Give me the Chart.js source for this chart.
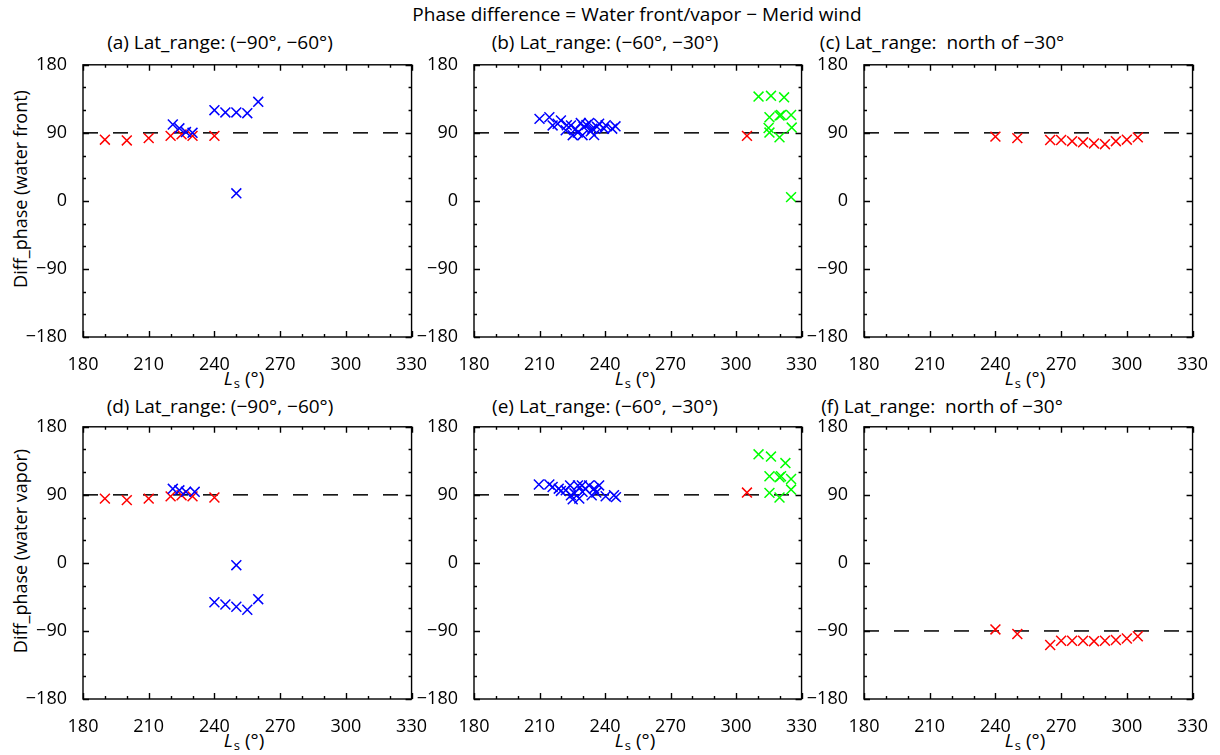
<!DOCTYPE html>
<html>
<head>
<meta charset="utf-8">
<script src="https://cdn.jsdelivr.net/npm/chart.js@4.4.0/dist/chart.umd.min.js"></script>
<style>
  body { margin: 0; background: #fff; font-family: "Open Sans", sans-serif; }
  #page { position: relative; width: 1220px; height: 755px; overflow: hidden; }
  .box { position: absolute; }
  .lbl { position: absolute; white-space: nowrap; color: #000; font-size: 19px; line-height: 22px; transform: translate(-50%, -50%); }
  .ytitle { font-size: 18px; transform: translate(-50%, -50%) rotate(-90deg); }
  .lbl sub { font-size: 13px; vertical-align: -3px; margin-left: 1px; }
</style>
</head>
<body>
<div id="page">
  <div class="lbl" style="left:637px; top:14px;">Phase difference = Water front/vapor &minus; Merid wind</div>

  <div class="lbl" style="left:220px; top:42px;">(a) Lat_range: (&minus;90&deg;, &minus;60&deg;)</div>
  <div class="lbl" style="left:605px; top:42px;">(b) Lat_range: (&minus;60&deg;, &minus;30&deg;)</div>
  <div class="lbl" style="left:942px; top:42px;">(c) Lat_range: &nbsp;north of &minus;30&deg;</div>
  <div class="lbl" style="left:220px; top:406px;">(d) Lat_range: (&minus;90&deg;, &minus;60&deg;)</div>
  <div class="lbl" style="left:605px; top:406px;">(e) Lat_range: (&minus;60&deg;, &minus;30&deg;)</div>
  <div class="lbl" style="left:942px; top:406px;">(f) Lat_range: &nbsp;north of &minus;30&deg;</div>

  <div class="lbl ytitle" style="left:20px; top:189px;">Diff_phase (water front)</div>
  <div class="lbl ytitle" style="left:20px; top:551px;">Diff_phase (water vapor)</div>

  <div class="lbl" style="left:244px; top:380px;"><i>L</i><sub>s</sub> (&deg;)</div>
  <div class="lbl" style="left:635px; top:380px;"><i>L</i><sub>s</sub> (&deg;)</div>
  <div class="lbl" style="left:1025px; top:380px;"><i>L</i><sub>s</sub> (&deg;)</div>
  <div class="lbl" style="left:244px; top:742px;"><i>L</i><sub>s</sub> (&deg;)</div>
  <div class="lbl" style="left:635px; top:742px;"><i>L</i><sub>s</sub> (&deg;)</div>
  <div class="lbl" style="left:1025px; top:742px;"><i>L</i><sub>s</sub> (&deg;)</div>

  <div class="box" id="boxA"><canvas id="chartA"></canvas></div>
  <div class="box" id="boxB"><canvas id="chartB"></canvas></div>
  <div class="box" id="boxC"><canvas id="chartC"></canvas></div>
  <div class="box" id="boxD"><canvas id="chartD"></canvas></div>
  <div class="box" id="boxE"><canvas id="chartE"></canvas></div>
  <div class="box" id="boxF"><canvas id="chartF"></canvas></div>
</div>

<script>
// axis ticks
const xTicks = [180, 210, 240, 270, 300, 330];
const yTicks = [-180, -90, 0, 90, 180];
const xMinor = [180, 190, 200, 210, 220, 230, 240, 250, 260, 270, 280, 290, 300, 310, 320, 330];
const yMinor = [-180, -150, -120, -90, -60, -30, 0, 30, 60, 90, 120, 150, 180];
const refX = [180, 330];

// (a) water front, -90..-60
const aRedX  = [190, 200, 210, 220, 225, 230, 240];
const aRedY  = [81, 80, 83, 86, 88, 86, 86];
const aBlueX = [221, 224, 227, 230, 240, 245, 250, 255, 260, 250];
const aBlueY = [101, 96, 91, 90, 120, 117, 117, 116, 131, 10];

// (b) water front, -60..-30
const bBlueX = [210, 214.5, 216, 218.3, 219.8, 222, 222.5, 224.4, 225.2, 226.5, 227.5, 228.9, 229.7, 230.2, 231.5, 232.7, 233.5, 234.2, 235, 236.3, 237.3, 239.5, 240.3, 243.3, 244.8];
const bBlueY = [108.5, 110.6, 99.8, 102, 106.3, 93.4, 100, 99.8, 86.9, 95, 90.5, 102.9, 86.9, 97.7, 100.5, 103, 92, 95.5, 87, 98, 102, 95.5, 100, 95.5, 98.6];
const bRedX  = [305];
const bRedY  = [86];
const bGreenX = [310.3, 316, 322, 315.3, 319.9, 320.6, 325.2, 314.9, 315.3, 319.9, 325.5, 325.2];
const bGreenY = [138, 139, 137, 110.6, 112.8, 113.5, 113.6, 96.4, 90.4, 84, 97, 5];

// (c) water front, north of -30
const cRedX = [240, 250, 265, 270, 275, 280, 285, 290, 295, 300, 305];
const cRedY = [85, 83, 80.5, 80.5, 79, 77.5, 76, 75, 79, 81, 84];

// (d) water vapor, -90..-60
const dRedX  = [190, 200, 210, 220, 225, 230, 240];
const dRedY  = [85, 83, 85, 88, 89.5, 88, 86.5];
const dBlueX = [221, 224, 227, 231, 240, 245, 250, 255, 260, 250];
const dBlueY = [98, 96, 94, 94, -52, -55, -58, -62, -48, -3];

// (e) water vapor, -60..-30
const eBlueX = [209.7, 214.5, 216, 218.8, 219.8, 222, 224, 224.4, 225.2, 226, 227.6, 228.2, 229.4, 229.7, 231, 232.7, 233.9, 235, 236, 237.3, 240.3, 244.1, 245];
const eBlueY = [103.7, 103.7, 100.4, 98.2, 95.2, 96, 102.5, 89.5, 84, 92, 102.5, 85.2, 102.5, 94, 98, 102.5, 89.5, 98.2, 93, 102.5, 88.2, 89.5, 87];
const eRedX  = [305];
const eRedY  = [93];
const eGreenX = [310.3, 316, 322.6, 315.3, 319.9, 320.6, 325.2, 315.3, 319.9, 325.2];
const eGreenY = [143.6, 140.6, 132, 114.6, 113.3, 114.6, 111, 92.6, 86.5, 97];

// (f) water vapor, north of -30
const fRedX = [240, 250, 265, 270, 275, 280, 285, 290, 295, 300, 305];
const fRedY = [-88, -94, -108.6, -103, -103, -103, -103.5, -103, -102, -100, -97];

const RED = '#ff0000', BLUE = '#0000ff', GREEN = '#00ff00';
const FONT = "'Open Sans', sans-serif";

function pts(xs, ys) {
  return xs.map((x, i) => ({ x: x, y: ys[i] }));
}

function crosses(xs, ys, color) {
  return {
    data: pts(xs, ys),
    pointStyle: 'crossRot',
    pointRadius: 7,
    pointHoverRadius: 7,
    pointBorderColor: color,
    pointBackgroundColor: color,
    pointBorderWidth: 1.5,
    showLine: false
  };
}

function refLine(v) {
  return {
    data: pts(refX, [v, v]),
    showLine: true,
    borderColor: '#000',
    borderWidth: 1.5,
    borderDash: [15, 15],
    pointRadius: 0,
    fill: false
  };
}

// frame + inward ticks on all four sides
const frameTicks = {
  id: 'frameTicks',
  afterDraw(chart) {
    const ctx = chart.ctx, a = chart.chartArea;
    const x = chart.scales.x, y = chart.scales.y;
    ctx.save();
    ctx.strokeStyle = '#000';
    ctx.lineWidth = 1.4;
    ctx.strokeRect(a.left, a.top, a.right - a.left, a.bottom - a.top);
    ctx.beginPath();
    xMinor.forEach(v => {
      const px = Math.round(x.getPixelForValue(v)) + 0.5;
      const len = xTicks.includes(v) ? 6 : 3;
      ctx.moveTo(px, a.bottom); ctx.lineTo(px, a.bottom - len);
      ctx.moveTo(px, a.top); ctx.lineTo(px, a.top + len);
    });
    yMinor.forEach(v => {
      const py = Math.round(y.getPixelForValue(v)) + 0.5;
      const len = yTicks.includes(v) ? 6 : 3;
      ctx.moveTo(a.left, py); ctx.lineTo(a.left + len, py);
      ctx.moveTo(a.right, py); ctx.lineTo(a.right - len, py);
    });
    ctx.stroke();
    ctx.restore();
  }
};

const PAD_L = 80, PAD_T = 14, PAD_R = 22, PAD_B = 50;

function makePanel(key, area, datasets) {
  const box = document.getElementById('box' + key);
  const cv = document.getElementById('chart' + key);
  const w = area.R - area.L + PAD_L + PAD_R;
  const h = area.B - area.T + PAD_T + PAD_B;
  box.style.left = (area.L - PAD_L) + 'px';
  box.style.top = (area.T - PAD_T) + 'px';
  cv.width = w; cv.height = h;
  cv.style.width = w + 'px'; cv.style.height = h + 'px';

  new Chart(cv.getContext('2d'), {
    type: 'scatter',
    data: { datasets: datasets },
    options: {
      responsive: false,
      animation: false,
      layout: { padding: { left: 0, top: PAD_T, right: PAD_R, bottom: 0 } },
      plugins: { legend: { display: false }, tooltip: { enabled: false } },
      scales: {
        x: {
          type: 'linear', min: 180, max: 330,
          grid: { display: false },
          border: { display: false },
          afterBuildTicks: s => { s.ticks = xTicks.map(v => ({ value: v })); },
          afterFit: s => { s.height = PAD_B; },
          ticks: { font: { family: FONT, size: 18 }, color: '#000', padding: 9, maxRotation: 0, autoSkip: false }
        },
        y: {
          type: 'linear', min: -180, max: 180,
          grid: { display: false },
          border: { display: false },
          afterBuildTicks: s => { s.ticks = yTicks.map(v => ({ value: v })); },
          afterFit: s => { s.width = PAD_L; },
          ticks: {
            font: { family: FONT, size: 18 }, color: '#000', padding: 8, autoSkip: false,
            callback: v => String(v).replace('-', '\u2212')
          }
        }
      }
    },
    plugins: [frameTicks]
  });
}

makePanel('A', { L: 83, R: 414, T: 60, B: 337 }, [
  crosses(aBlueX, aBlueY, BLUE), crosses(aRedX, aRedY, RED), refLine(90)
]);
makePanel('B', { L: 474, R: 804, T: 60, B: 337 }, [
  crosses(bGreenX, bGreenY, GREEN), crosses(bRedX, bRedY, RED), crosses(bBlueX, bBlueY, BLUE), refLine(90)
]);
makePanel('C', { L: 864, R: 1195, T: 60, B: 337 }, [
  crosses(cRedX, cRedY, RED), refLine(90)
]);
makePanel('D', { L: 83, R: 414, T: 422, B: 699 }, [
  crosses(dBlueX, dBlueY, BLUE), crosses(dRedX, dRedY, RED), refLine(90)
]);
makePanel('E', { L: 474, R: 804, T: 422, B: 699 }, [
  crosses(eGreenX, eGreenY, GREEN), crosses(eRedX, eRedY, RED), crosses(eBlueX, eBlueY, BLUE), refLine(90)
]);
makePanel('F', { L: 864, R: 1195, T: 422, B: 699 }, [
  crosses(fRedX, fRedY, RED), refLine(-90)
]);
</script>
</body>
</html>
